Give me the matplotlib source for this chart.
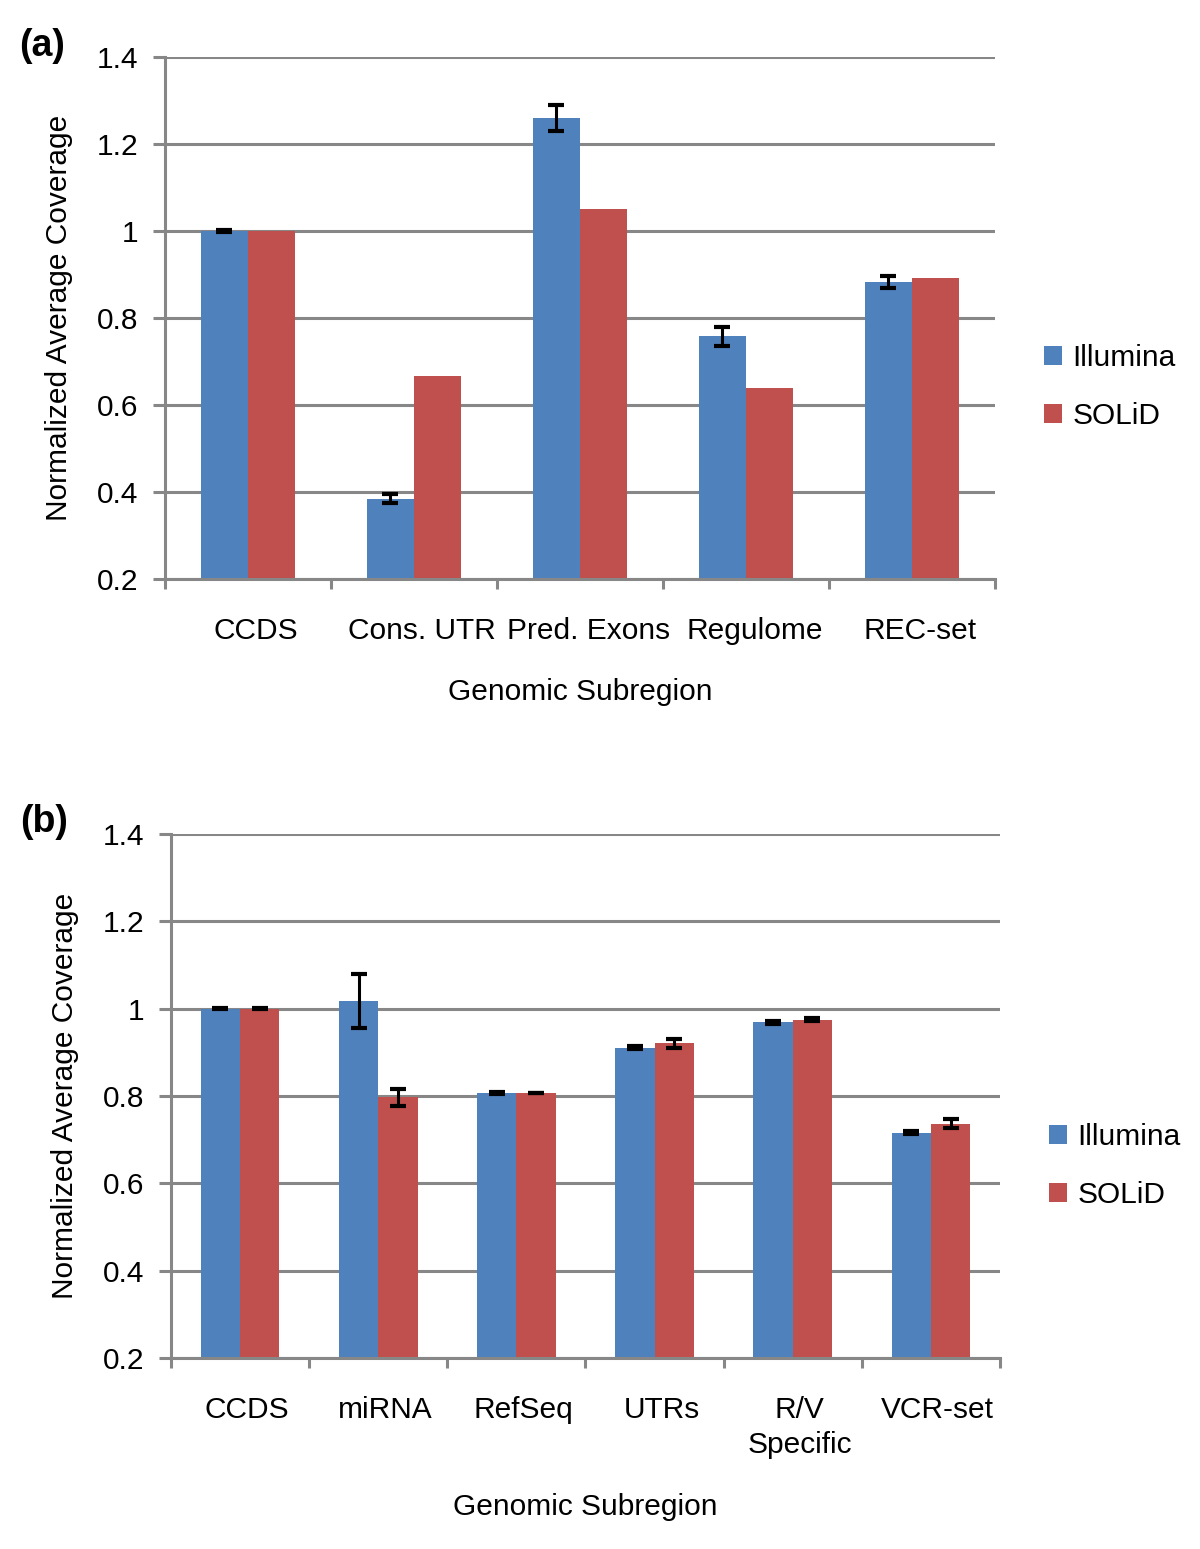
import matplotlib
matplotlib.use("Agg")
import matplotlib.pyplot as plt
from matplotlib.patches import Patch
from matplotlib.ticker import FixedLocator, FuncFormatter
import numpy as np

# panel (a)
a_categories = ["CCDS", "Cons. UTR", "Pred. Exons", "Regulome", "REC-set"]
a_illumina = [1.0, 0.385, 1.26, 0.758, 0.882]
a_illumina_err = [0.002, 0.010, 0.030, 0.022, 0.014]
a_solid = [1.0, 0.666, 1.05, 0.640, 0.893]

# panel (b)
b_categories = ["CCDS", "miRNA", "RefSeq", "UTRs", "R/V\nSpecific", "VCR-set"]
b_illumina = [1.0, 1.018, 0.807, 0.911, 0.969, 0.716]
b_illumina_err = [0.001, 0.062, 0.003, 0.003, 0.003, 0.003]
b_solid = [1.0, 0.797, 0.807, 0.921, 0.975, 0.737]
b_solid_err = [0.001, 0.020, 0.001, 0.010, 0.003, 0.010]

series_names = ["Illumina", "SOLiD"]
y_ticks = [0.2, 0.4, 0.6, 0.8, 1.0, 1.2, 1.4]

BLUE = "#4F81BD"
RED = "#C0504D"
GRID = "#878787"
FS = 21.5

plt.rcParams["font.family"] = ["Liberation Sans", "DejaVu Sans"]
plt.rcParams["font.size"] = FS


def bar_panel(ax, cats, ill, ill_err, sol, sol_err):
    n = len(cats)
    centers = np.arange(n) + 0.5
    w = 0.285
    err_kw = dict(ecolor="black", elinewidth=2.2, capsize=5.5, capthick=3)
    ax.bar(centers - w / 2, ill, width=w, bottom=0, color=BLUE, zorder=2,
           yerr=ill_err, error_kw=err_kw, label=series_names[0])
    ax.bar(centers + w / 2, sol, width=w, bottom=0, color=RED, zorder=2,
           yerr=sol_err, error_kw=err_kw, label=series_names[1])

    ax.set_xlim(0, n)
    ax.set_ylim(0.2, 1.4)
    ax.set_yticks(y_ticks)
    ax.yaxis.set_major_formatter(FuncFormatter(lambda v, p: f"{v:g}"))
    ax.yaxis.grid(True, color=GRID, linewidth=2.2, zorder=0)
    ax.set_axisbelow(True)

    # category boundaries carry the tick marks, centres carry the names
    ax.xaxis.set_major_locator(FixedLocator(np.arange(n + 1)))
    ax.xaxis.set_major_formatter(FuncFormatter(lambda v, p: ""))
    ax.xaxis.set_minor_locator(FixedLocator(centers + 0.05))
    ax.set_xticklabels(cats, minor=True, linespacing=1.35)
    ax.tick_params(axis="x", which="major", direction="out", length=7.5,
                   width=2.2, color=GRID)
    ax.tick_params(axis="x", which="minor", length=0, pad=27)
    ax.tick_params(axis="y", direction="out", length=8.5, width=2.2,
                   color=GRID, pad=11)

    for s in ["top", "right"]:
        ax.spines[s].set_visible(False)
    for s in ["left", "bottom"]:
        ax.spines[s].set_color(GRID)
        ax.spines[s].set_linewidth(2.2)

    ax.set_xlabel("Genomic Subregion", labelpad=24)
    ax.set_ylabel("Normalized Average Coverage", labelpad=17)

    handles = [Patch(facecolor=BLUE), Patch(facecolor=RED)]
    ax.legend(handles, series_names, loc="center left",
              bbox_to_anchor=(1.059, 0.367), frameon=False, borderpad=0,
              borderaxespad=0, handlelength=0.6, handleheight=0.6,
              handletextpad=0.35, labelspacing=1.0)


fig = plt.figure(figsize=(12, 15.49), dpi=100)
ax_a = fig.add_axes([165 / 1200, 1 - 579 / 1549, 830 / 1200, 522 / 1549])
ax_b = fig.add_axes([171 / 1200, 1 - 1358 / 1549, 829 / 1200, 524 / 1549])

bar_panel(ax_a, a_categories, a_illumina, a_illumina_err, a_solid, None)
bar_panel(ax_b, b_categories, b_illumina, b_illumina_err, b_solid, b_solid_err)

fig.text(42 / 1200, 1 - 46 / 1549, "(a)", fontsize=27, fontweight="bold",
         ha="center", va="center")
fig.text(44 / 1200, 1 - 822 / 1549, "(b)", fontsize=27, fontweight="bold",
         ha="center", va="center")

fig.savefig("out.png", dpi=100)
